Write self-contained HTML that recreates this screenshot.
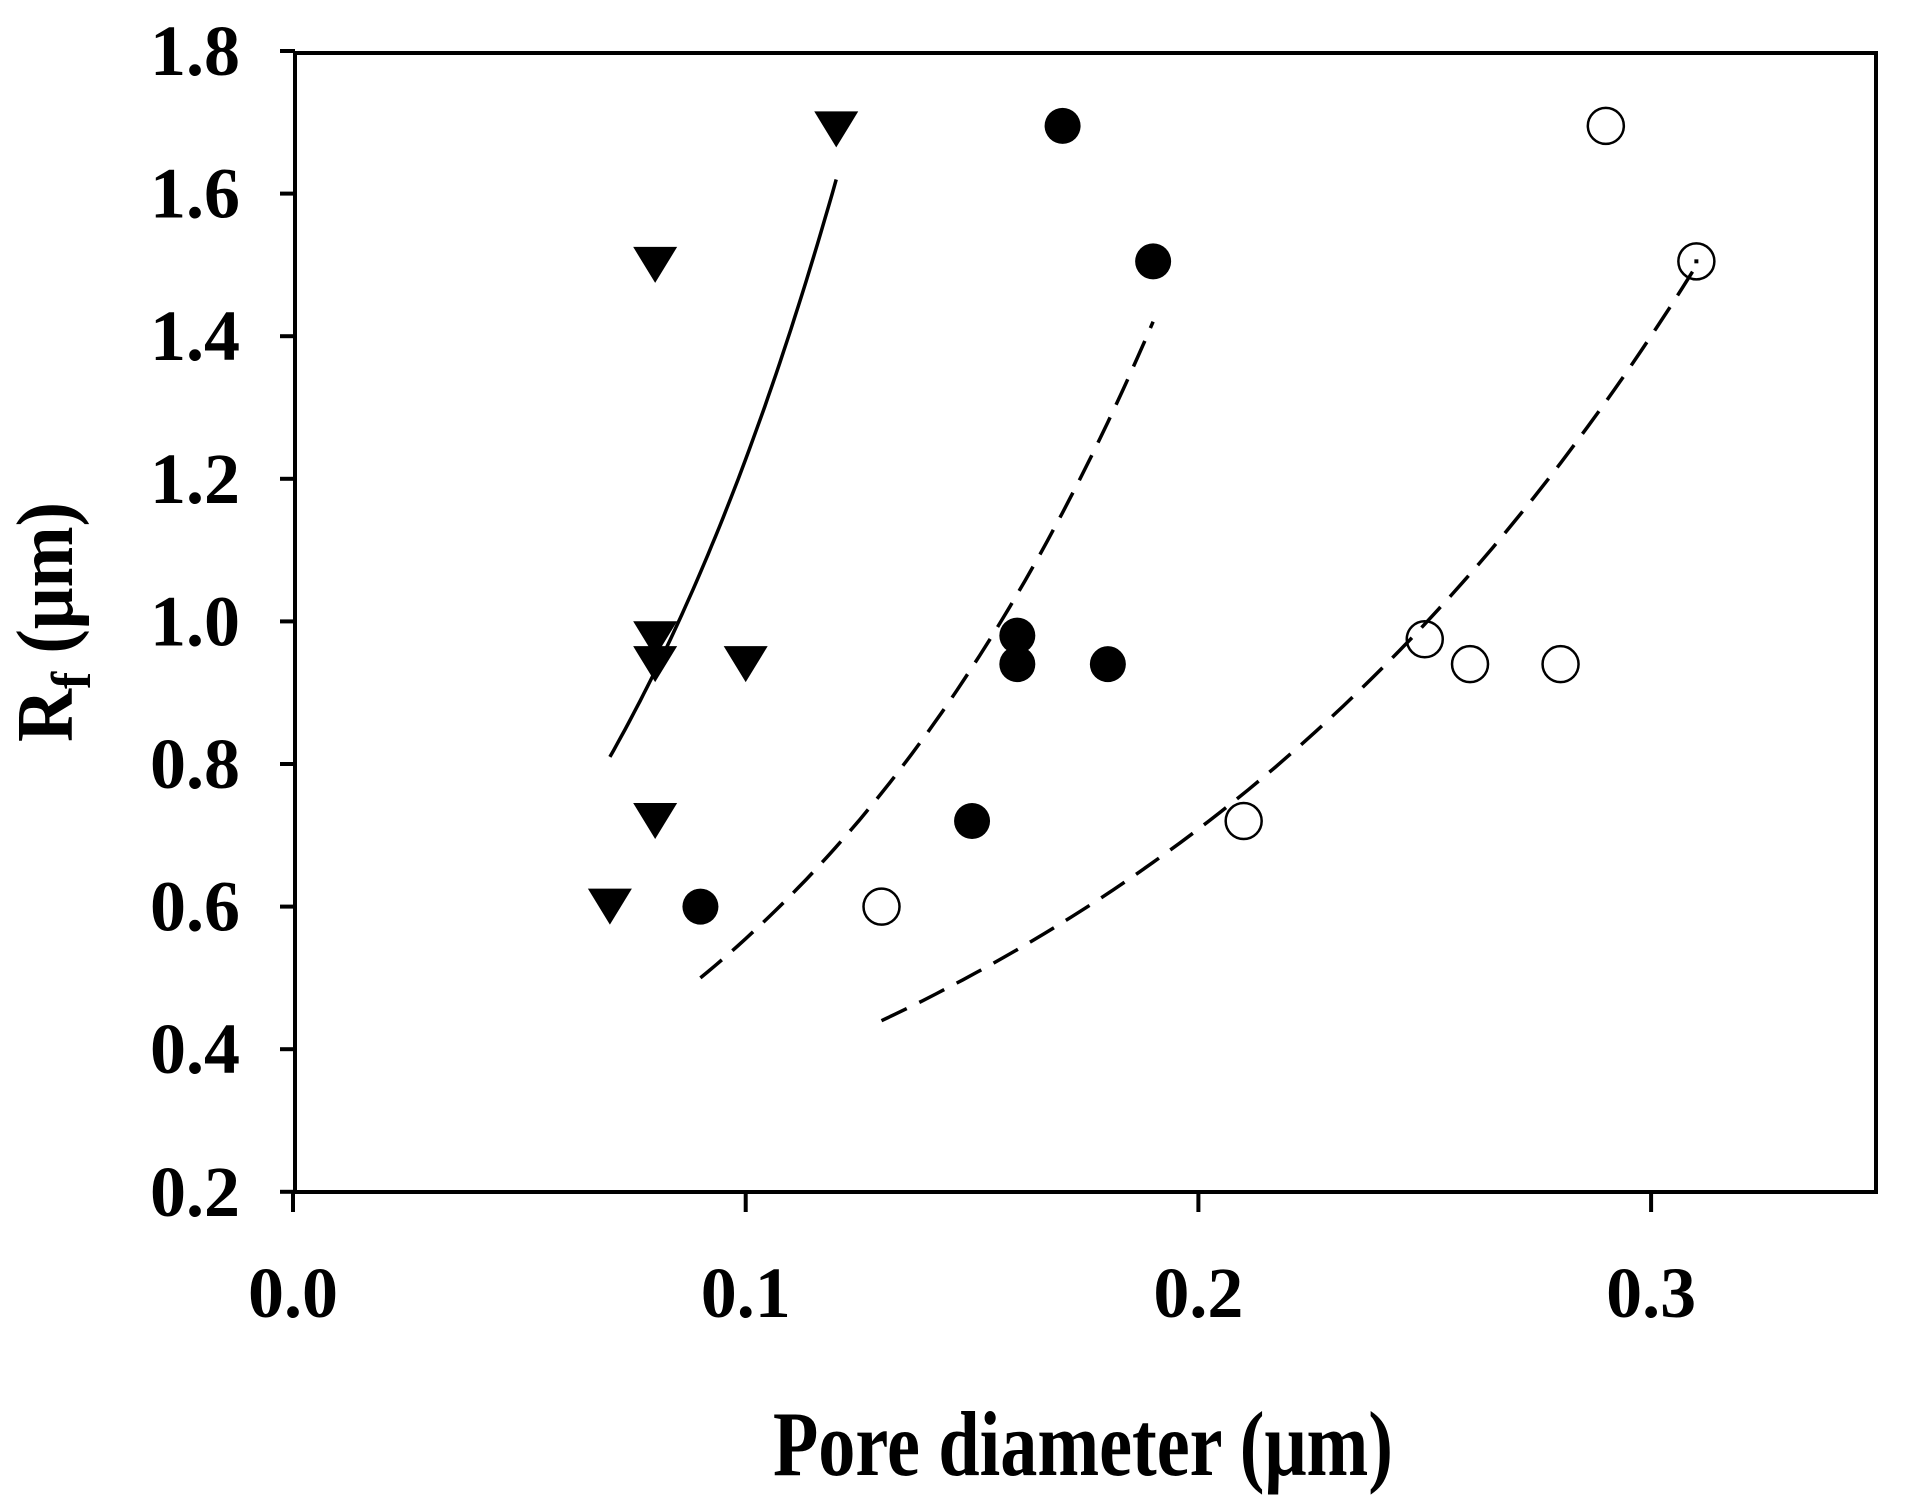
<!DOCTYPE html>
<html><head><meta charset="utf-8"><style>
html,body{margin:0;padding:0;background:#fff;}
svg{display:block;}
text{font-family:"Liberation Serif",serif;fill:#000;}
</style></head><body>
<svg id="s" width="1920" height="1497" viewBox="0 0 1920 1497" xmlns="http://www.w3.org/2000/svg">
<rect x="0" y="0" width="1920" height="1497" fill="#fff"/>
<rect x="295" y="53" width="1581" height="1139" fill="none" stroke="#000" stroke-width="4"/>
<g id="ticks" stroke="#000" stroke-width="4"></g>
<g id="yl" font-size="72" font-weight="bold" text-anchor="end"></g>
<g id="xl" font-size="72" font-weight="bold" text-anchor="middle"></g>
<g id="curves" fill="none" stroke="#000" stroke-width="3.5"></g>
<g id="pts"></g>
<text x="773" y="1475" font-size="92" font-weight="bold" textLength="620" lengthAdjust="spacingAndGlyphs">Pore diameter (μm)</text>
<text transform="translate(72,742) rotate(-90)" font-size="80" font-weight="bold" textLength="240" lengthAdjust="spacingAndGlyphs">R<tspan font-size="56" dy="18">f</tspan><tspan dy="-18"> (μm)</tspan></text>
</svg>
<script>
var NS="http://www.w3.org/2000/svg";
function X(v){return 293+v*4527;}
function Y(v){return 51+(1.8-v)/0.2*142.6;}
function el(p,t,a,txt){var e=document.createElementNS(NS,t);for(var k in a)e.setAttribute(k,a[k]);if(txt)e.textContent=txt;document.getElementById(p).appendChild(e);return e;}
for(var i=0;i<=8;i++){var v=0.2+i*0.2,y=Y(v);
 el('ticks','line',{x1:280,y1:y,x2:295,y2:y});
 el('yl','text',{x:240,y:y+24},v.toFixed(1));}
for(var i=0;i<=3;i++){var x=X(i*0.1);
 el('ticks','line',{x1:x,y1:1192,x2:x,y2:1212});
 el('xl','text',{x:x,y:1317},(i*0.1).toFixed(1));}
function curve(a,b,x0,x1,dash){var d="";for(var k=0;k<=60;k++){var x=x0+(x1-x0)*k/60,y=a*Math.exp(b*(x-x0));d+=(k?"L":"M")+X(x).toFixed(1)+","+Y(y).toFixed(1);}
 var at={d:d};if(dash)at['stroke-dasharray']=dash;el('curves','path',at);}
curve(0.81,13.86,0.07,0.12,null);
curve(0.5,10.44,0.09,0.19,"28,14");
curve(0.44,6.81,0.13,0.31,"28,14");
var tri=[[0.07,0.6],[0.08,0.72],[0.08,0.94],[0.08,0.975],[0.1,0.94],[0.08,1.5],[0.12,1.69]];
tri.forEach(function(p){var x=X(p[0]),y=Y(p[1]);el('pts','polygon',{points:(x-22)+","+(y-18)+" "+(x+22)+","+(y-18)+" "+x+","+(y+18),fill:"#000"});});
var fc=[[0.09,0.6],[0.15,0.72],[0.16,0.94],[0.16,0.98],[0.18,0.94],[0.19,1.505],[0.17,1.695]];
fc.forEach(function(p){el('pts','circle',{cx:X(p[0]),cy:Y(p[1]),r:18,fill:"#000"});});
var oc=[[0.13,0.6],[0.21,0.72],[0.25,0.975],[0.26,0.94],[0.28,0.94],[0.31,1.505],[0.29,1.695]];
oc.forEach(function(p){el('pts','circle',{cx:X(p[0]),cy:Y(p[1]),r:18,fill:"none",stroke:"#000","stroke-width":2.5});});
el('pts','rect',{x:X(0.31)-2,y:Y(1.505)-2,width:4,height:4,fill:"#000"});
</script>
</body></html>
